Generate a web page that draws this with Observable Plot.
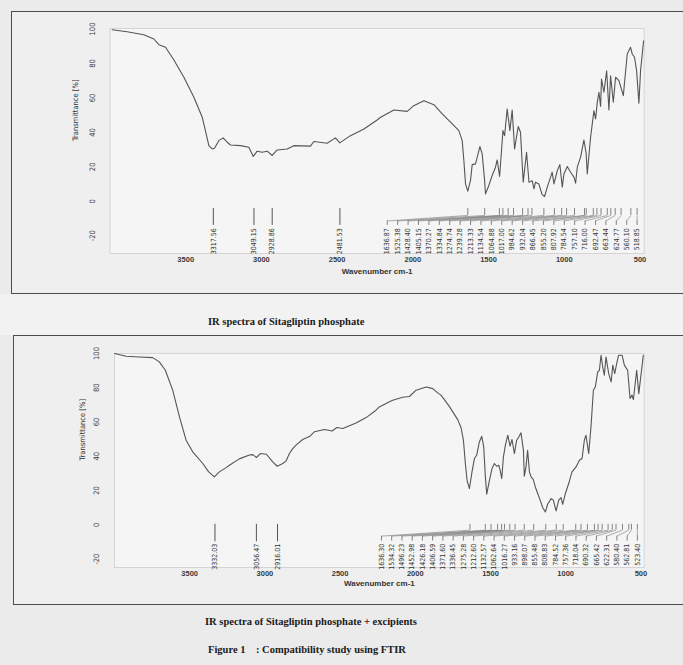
<!DOCTYPE html>
<html><head><meta charset="utf-8">
<script src="https://cdn.jsdelivr.net/npm/d3@7"></script>
<script src="https://cdn.jsdelivr.net/npm/@observablehq/plot@0.6"></script>
<style>
html,body{margin:0;padding:0;}
body{width:683px;height:665px;position:relative;overflow:hidden;background:#ebebeb;font-family:"Liberation Sans",Arial,sans-serif;}
.box{position:absolute;border:1.5px solid #4d4d4d;background:#efefef;box-sizing:border-box;}
#box1{left:11px;top:11px;width:700px;height:283px;}
#box2{left:13px;top:335px;width:700px;height:270px;}
#mid{position:absolute;left:0;top:294px;width:683px;height:41px;background:#f2f2f2;}
.chart{position:absolute;left:0;}
#c1{top:0}
#c2{top:300px}
.cap{position:absolute;font-family:"Liberation Serif","Times New Roman",serif;font-weight:bold;font-size:10.5px;line-height:1;color:#1a1a1a;white-space:pre;}
</style>
</head><body>
<div id="mid"></div>
<div class="box" id="box1"></div>
<div class="box" id="box2"></div>
<div class="chart" id="c1"></div>
<div class="chart" id="c2"></div>
<div class="cap" style="left:208px;top:317px">IR spectra of Sitagliptin phosphate</div>
<div class="cap" style="left:205px;top:617px">IR spectra of Sitagliptin phosphate + excipients</div>
<div class="cap" style="left:208px;top:645px">Figure 1    : Compatibility study using FTIR</div>
<script>
const xTicks = [3500, 3000, 2500, 2000, 1500, 1000, 500];
const yTicks = [-20, 0, 20, 40, 60, 80, 100];

const spec1Wavenumber = [3986,3887,3777,3710,3677,3633,3578,3512,3446,3391,3365,3347,3325,3310,3281,3253,3226,3204,3138,3083,3054,3028,2995,2962,2929,2896,2830,2786,2676,2654,2566,2511,2482,2412,2323,2236,2213,2125,2037,1994,1927,1861,1806,1751,1696,1674,1663,1652,1637,1619,1608,1586,1557,1542,1526,1520,1498,1476,1454,1443,1427,1416,1405,1394,1377,1359,1344,1328,1304,1289,1271,1249,1233,1212,1200,1190,1168,1146,1130,1112,1090,1080,1068,1046,1029,1013,1002,980,958,936,925,914,892,870,855,848,826,804,793,782,771,760,754,738,720,705,694,676,661,639,610,584,562,551,536,522,507,496,476];
const spec1Transmittance = [99.6,98.4,96.7,94.2,90.9,89.4,82.0,72.0,60.4,48.8,39.1,32.3,30.4,30.8,35.2,36.8,34.3,32.7,32.3,31.4,26.0,29.1,28.5,29.1,26.6,29.8,30.4,32.3,32.0,34.7,33.7,36.8,33.9,38.1,42.0,47.2,48.8,53.0,52.2,55.5,58.4,56.1,50.7,45.9,41.0,35.2,23.7,10.1,5.9,12.1,21.3,21.7,31.8,27.5,12.1,4.3,9.2,15.0,19.8,24.0,14.4,27.5,41.0,38.1,53.6,41.0,53.0,30.4,43.4,40.1,11.1,28.5,11.1,12.0,7.2,11.1,10.1,3.9,2.8,8.2,14.0,16.9,10.1,17.8,21.3,8.2,15.9,20.2,16.9,14.0,10.5,19.8,25.6,35.6,27.5,15.9,37.2,52.6,47.8,57.4,63.3,55.0,71.0,63.3,75.8,53.0,72.9,57.5,72.0,70.0,61.3,85.5,89.4,85.5,83.6,75.8,56.9,75.8,93.2];
const spec1SinglePeaks = ["3317.56","3049.15","2928.86","2481.53"];
const spec1FanPeaks = ["1636.87","1525.38","1428.40","1405.15","1370.27","1334.84","1274.74","1239.28","1213.33","1134.54","1064.88","1017.00","984.62","932.04","866.45","855.20","807.92","784.54","757.10","716.00","692.47","663.44","624.77","560.10","518.85"];

const spec2Wavenumber = [4000,3923,3834,3746,3702,3662,3613,3568,3524,3480,3413,3374,3336,3303,3258,3236,3170,3103,3081,3056,3030,2990,2948,2918,2881,2859,2837,2815,2793,2749,2704,2671,2604,2553,2522,2482,2394,2327,2261,2239,2172,2150,2084,2039,1995,1928,1884,1851,1829,1775,1718,1696,1680,1667,1656,1640,1623,1607,1592,1574,1558,1545,1534,1525,1507,1490,1474,1459,1445,1436,1425,1414,1401,1385,1370,1357,1341,1326,1312,1297,1281,1275,1264,1253,1241,1230,1215,1202,1186,1170,1153,1135,1120,1097,1082,1064,1046,1031,1020,1002,980,958,931,909,891,876,865,847,831,816,803,787,776,765,754,743,732,714,698,687,674,661,648,625,610,588,572,559,550,528,514,484];
const spec2Transmittance = [100,98.4,98.0,97.6,95.1,90.2,78.6,63.0,49.4,42.6,35.8,30.9,28.0,30.9,33.4,34.8,38.5,40.8,41.0,39.3,41.6,41.2,36.7,34.2,35.8,37.3,41.6,44.5,46.5,49.8,51.5,54.3,55.6,54.8,56.8,56.2,59.5,62.6,66.9,68.8,71.8,72.7,74.5,74.9,78.6,80.5,79.5,77.0,75.7,69.3,61.4,56.8,49.4,35.8,26.0,21.2,30.9,38.7,40.6,48.4,51.7,45.5,28.0,17.9,26.0,32.8,35.8,34.2,34.8,31.9,27.0,39.7,46.5,52.3,45.9,49.8,41.6,49.4,51.3,53.7,43.5,28.4,33.8,43.5,30.9,28.0,26.4,22.1,18.3,14.4,10.1,7.5,12.0,15.3,14.4,8.1,14.4,15.9,12.0,18.3,24.1,30.9,33.8,37.7,38.7,49.4,52.3,41.6,58.1,78.6,80.5,89.3,90.2,99.0,92.2,87.3,98.0,88.3,83.4,93.2,88.3,94.1,99.0,99.0,93.2,90.2,73.7,75.7,73.1,90.2,76.6,99.0];
const spec2SinglePeaks = ["3332.03","3056.47","2916.01"];
const spec2FanPeaks = ["1636.30","1534.32","1496.23","1452.98","1426.18","1406.59","1371.60","1336.45","1275.28","1212.60","1132.57","1062.64","1016.27","933.16","898.07","855.48","808.83","784.52","757.36","718.04","690.32","665.42","622.31","580.40","562.81","523.40"];

const LINE = "#555";
const NARROW = '"Liberation Sans Narrow","DejaVu Sans Condensed","Liberation Sans",sans-serif';

function spectrum(cfg) {
  const data = cfg.wav.map((w, i) => ({w, t: cfg.trans[i]}));
  const singles = cfg.singles.map(s => ({w: +s, label: s}));
  const n = cfg.fan.length;
  const slot = d3.scaleLinear().domain([0, n - 1]).range([cfg.slotStart, +cfg.fan[n - 1]]);
  const fan = cfg.fan.map((s, i) => ({w: +s, slot: slot(i), label: s}));
  const L = cfg.lay;
  return Plot.plot({
    width: 683, height: 300,
    marginLeft: cfg.ml, marginRight: 39.3, marginTop: cfg.mt, marginBottom: cfg.mb,
    style: {background: "transparent", fontFamily: '"Liberation Sans",Arial,sans-serif'},
    x: {domain: cfg.xDomain, axis: null},
    y: {domain: cfg.yDomain, axis: null},
    marks: [
      Plot.frame({fill: "#f5f5f5", stroke: "#d4d4d4"}),
      Plot.axisX(xTicks, {tickSize: 0, tickPadding: 3, tickFormat: d => String(d), fontSize: 7.5, fontWeight: "bold", fill: "#3a3a3a", label: null}),
      Plot.text(yTicks, {y: d => d, text: d => String(d), frameAnchor: "left", dx: cfg.yTickDx, rotate: -90, textAnchor: "middle", lineAnchor: "middle", fontSize: 7.5, fill: "#3a3a3a", fontFamily: NARROW}),
      Plot.text(["Transmittance [%]"], {frameAnchor: "left", dx: cfg.yLabelDx, rotate: -90, fontSize: 7.5, fill: "#333", fontFamily: NARROW}),
      Plot.text(["Wavenumber cm-1"], {frameAnchor: "bottom", dy: cfg.xLabelDy, fontSize: 8, fontWeight: "bold", fill: "#333"}),
      Plot.line(data, {x: "w", y: "t", stroke: LINE, strokeWidth: 1.1}),
      Plot.ruleX(singles, {x: "w", y1: L.sTop, y2: L.sBot, stroke: LINE, strokeWidth: 1}),
      Plot.text(singles, {x: "w", y: L.text, text: "label", rotate: -90, textAnchor: "end", lineAnchor: "middle", fontSize: 7, fill: "#333", fontFamily: NARROW}),
      Plot.ruleX(fan, {x: "w", y1: L.fTop, y2: L.fMid, stroke: "#666", strokeWidth: 0.8}),
      Plot.link(fan, {x1: "w", y1: L.fMid, x2: "slot", y2: L.fLow, stroke: "#777", strokeWidth: 0.6}),
      Plot.ruleX(fan, {x: "slot", y1: L.fLow, y2: L.fBot, stroke: "#666", strokeWidth: 0.8}),
      Plot.text(fan, {x: "slot", y: L.text, text: "label", rotate: -90, textAnchor: "end", lineAnchor: "middle", fontSize: 7, fill: "#333", fontFamily: NARROW})
    ]
  });
}

document.getElementById("c1").append(spectrum({
  wav: spec1Wavenumber, trans: spec1Transmittance, singles: spec1SinglePeaks, fan: spec1FanPeaks,
  slotStart: 2169, xDomain: [4000, 472], yDomain: [-30.3, 100.3],
  ml: 109.5, mt: 28, mb: 47, yTickDx: -17, yLabelDx: -34.5, xLabelDy: 20.5,
  lay: {sTop: -4.2, sBot: -14.0, fTop: -4.2, fMid: -8.2, fLow: -11.4, fBot: -14.0, text: -15.6}
}));
document.getElementById("c2").append(spectrum({
  wav: spec2Wavenumber, trans: spec2Transmittance, singles: spec2SinglePeaks, fan: spec2FanPeaks,
  slotStart: 2225, xDomain: [4000, 478], yDomain: [-24.9, 100],
  ml: 114, mt: 53, mb: 33, yTickDx: -18, yLabelDx: -32, xLabelDy: 18.5,
  lay: {sTop: 0.3, sBot: -9.9, fTop: 0.3, fMid: -3.1, fLow: -6.6, fBot: -9.5, text: -11.0}
}));
</script>
</body></html>
